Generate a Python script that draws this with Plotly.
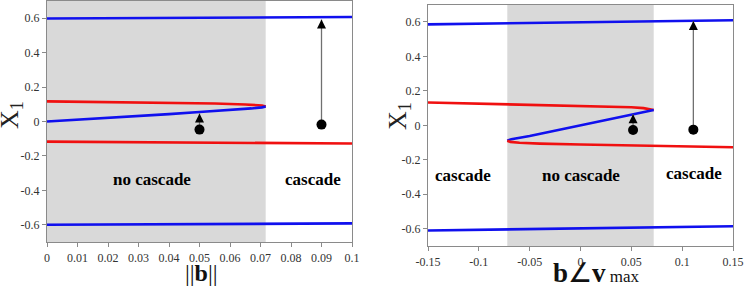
import plotly.graph_objects as go

# ---------------- data ----------------
# Left panel: ||b||
L_blue_top_x = [0.0, 0.05, 0.1]
L_blue_top_y = [0.598, 0.602, 0.607]
L_blue_bot_x = [0.0, 0.05, 0.1]
L_blue_bot_y = [-0.600, -0.596, -0.592]
L_red_up_x = [0.0, 0.02, 0.04, 0.055, 0.065, 0.0705, 0.0717]
L_red_up_y = [0.117, 0.114, 0.110, 0.105, 0.099, 0.093, 0.087]
L_blue_mid_x = [0.0717, 0.0705, 0.067, 0.06, 0.05, 0.04, 0.02, 0.0]
L_blue_mid_y = [0.087, 0.082, 0.076, 0.066, 0.055, 0.043, 0.020, 0.0]
L_red_low_x = [0.0, 0.05, 0.1]
L_red_low_y = [-0.117, -0.122, -0.128]
L_shade = [0.0, 0.0717]
L_arrow_x = [0.05, 0.09]
L_arrow_y0 = [-0.047, -0.018]
L_arrow_y1 = [0.047, 0.592]
L_labels = ["no cascade", "cascade"]
L_label_x = [0.0345, 0.0873]
L_label_y = [-0.335, -0.335]
L_xticks = [0, 0.01, 0.02, 0.03, 0.04, 0.05, 0.06, 0.07, 0.08, 0.09, 0.1]

# Right panel: b angle v_max
R_blue_top_x = [-0.15, 0.0, 0.15]
R_blue_top_y = [0.586, 0.598, 0.610]
R_blue_bot_x = [-0.15, 0.0, 0.15]
R_blue_bot_y = [-0.610, -0.598, -0.585]
R_red_up_x = [-0.15, -0.1, -0.05, 0.0, 0.03, 0.05, 0.062, 0.069, 0.072]
R_red_up_y = [0.133, 0.127, 0.121, 0.115, 0.110, 0.105, 0.100, 0.095, 0.089]
R_blue_mid_x = [-0.072, -0.068, -0.05, 0.0, 0.05, 0.068, 0.072]
R_blue_mid_y = [-0.089, -0.080, -0.062, 0.0, 0.060, 0.081, 0.089]
R_red_low_x = [-0.072, -0.069, -0.06, -0.04, 0.0, 0.05, 0.1, 0.15]
R_red_low_y = [-0.089, -0.096, -0.101, -0.106, -0.111, -0.117, -0.122, -0.127]
R_shade = [-0.072, 0.072]
R_arrow_x = [0.0517, 0.111]
R_arrow_y0 = [-0.027, -0.025]
R_arrow_y1 = [0.064, 0.605]
R_labels = ["cascade", "no cascade", "cascade"]
R_label_x = [-0.1156, 0.0, 0.112]
R_label_y = [-0.29, -0.29, -0.28]
R_xticks = [-0.15, -0.1, -0.05, 0, 0.05, 0.1, 0.15]
R_xticktext = ["-0.15", "-0.1", "-0.05", "0", "0.05", "0.1", "0.15"]

yticks = [-0.6, -0.4, -0.2, 0, 0.2, 0.4, 0.6]
ytext = ["-0.6", "-0.4", "-0.2", "0", "0.2", "0.4", "0.6"]

# ---------------- figure ----------------
W, H = 747, 299
SERIF = "Liberation Serif"
BLUE = "#1010ee"
RED = "#f01010"

fig = go.Figure()

def add_line(xs, ys, color, xa, ya):
    fig.add_trace(go.Scatter(x=xs, y=ys, mode="lines", line=dict(color=color, width=2.6),
                             xaxis=xa, yaxis=ya, hoverinfo="skip", showlegend=False))

for xa, ya, curves in [
    ("x", "y", [(L_blue_top_x, L_blue_top_y, BLUE), (L_blue_bot_x, L_blue_bot_y, BLUE),
                (L_red_up_x, L_red_up_y, RED), (L_blue_mid_x, L_blue_mid_y, BLUE),
                (L_red_low_x, L_red_low_y, RED)]),
    ("x2", "y2", [(R_blue_top_x, R_blue_top_y, BLUE), (R_blue_bot_x, R_blue_bot_y, BLUE),
                  (R_red_up_x, R_red_up_y, RED), (R_blue_mid_x, R_blue_mid_y, BLUE),
                  (R_red_low_x, R_red_low_y, RED)]),
]:
    for xs, ys, c in curves:
        add_line(xs, ys, c, xa, ya)

# arrows (grey shafts, black heads) and dots
for xa, ya, axs, y0s, y1s in [("x", "y", L_arrow_x, L_arrow_y0, L_arrow_y1),
                              ("x2", "y2", R_arrow_x, R_arrow_y0, R_arrow_y1)]:
    for ax_, y0, y1 in zip(axs, y0s, y1s):
        fig.add_trace(go.Scatter(x=[ax_, ax_], y=[y0, y1], mode="lines",
                                 line=dict(color="#707070", width=1.3),
                                 xaxis=xa, yaxis=ya, hoverinfo="skip", showlegend=False))
    fig.add_trace(go.Scatter(x=axs, y=y1s, mode="markers",
                             marker=dict(color="black", size=9, symbol="arrow-up",
                                         line=dict(width=0)),
                             xaxis=xa, yaxis=ya, hoverinfo="skip", showlegend=False))
    fig.add_trace(go.Scatter(x=axs, y=y0s, mode="markers",
                             marker=dict(color="black", size=10),
                             xaxis=xa, yaxis=ya, hoverinfo="skip", showlegend=False))

# shaded regions
fig.add_shape(type="rect", xref="x", yref="y domain", x0=L_shade[0], x1=L_shade[1], y0=0, y1=1,
              fillcolor="#d9d9d9", line=dict(width=0), layer="below")
fig.add_shape(type="rect", xref="x2", yref="y2 domain", x0=R_shade[0], x1=R_shade[1], y0=0, y1=1,
              fillcolor="#d9d9d9", line=dict(width=0), layer="below")

# region labels
for xa, ya, labs, lx, ly in [("x", "y", L_labels, L_label_x, L_label_y),
                             ("x2", "y2", R_labels, R_label_x, R_label_y)]:
    for t, x_, y_ in zip(labs, lx, ly):
        fig.add_annotation(x=x_, y=y_, xref=xa, yref=ya, text="<b>%s</b>" % t, showarrow=False,
                           font=dict(family=SERIF, size=17, color="black"))

axis_common = dict(showgrid=False, zeroline=False, showline=True, linecolor="#8a8a8a",
                   linewidth=1.2, mirror=True, ticks="outside", ticklen=4, tickcolor="#8a8a8a",
                   automargin=False,
                   tickfont=dict(family=SERIF, size=12, color="#333333"))

fig.update_layout(
    width=W, height=H, margin=dict(l=0, r=0, t=0, b=0, autoexpand=False),
    paper_bgcolor="white", plot_bgcolor="white",
    font=dict(family=SERIF),
    xaxis=dict(domain=[47 / W, 352 / W], range=[0, 0.1], tickvals=L_xticks,
               ticktext=[("%g" % v) for v in L_xticks], anchor="y", **axis_common),
    yaxis=dict(domain=[(H - 242) / H, (H - 1) / H], range=[-0.7, 0.7], tickvals=yticks,
               ticktext=ytext, anchor="x", **axis_common),
    xaxis2=dict(domain=[428 / W, 733 / W], range=[-0.15, 0.15], tickvals=R_xticks,
                ticktext=R_xticktext, anchor="y2", **axis_common),
    yaxis2=dict(domain=[(H - 246) / H, (H - 4.7) / H], range=[-0.7, 0.7], tickvals=yticks,
                ticktext=ytext, anchor="x2", **axis_common),
)

# axis titles
fig.add_annotation(x=11 / W, y=1 - 115 / H, xref="paper", yref="paper", showarrow=False,
                   xanchor="center", yanchor="middle",
                   textangle=-90, text="X<sub>1</sub>",
                   font=dict(family=SERIF, size=26, color="#222222"))
fig.add_annotation(x=399 / W, y=1 - 116 / H, xref="paper", yref="paper", showarrow=False,
                   xanchor="center", yanchor="middle",
                   textangle=-90, text="X<sub>1</sub>",
                   font=dict(family=SERIF, size=26, color="#222222"))
fig.add_annotation(x=201 / W, y=1 - 273 / H, xref="paper", yref="paper", showarrow=False,
                   xanchor="center", yanchor="middle",
                   text="||<b>b</b>||", font=dict(family=SERIF, size=24, color="#111111"))
fig.add_annotation(x=596 / W, y=1 - 273 / H, xref="paper", yref="paper", showarrow=False,
                   xanchor="center", yanchor="middle",
                   text="<b>b</b>∠<b>v</b><span style='font-size:17px'> max</span>",
                   font=dict(family=SERIF, size=27, color="#111111"))

fig.write_html("out.html", config={"displayModeBar": False},
               post_script="document.body.style.margin='0';document.body.style.overflow='hidden';")
